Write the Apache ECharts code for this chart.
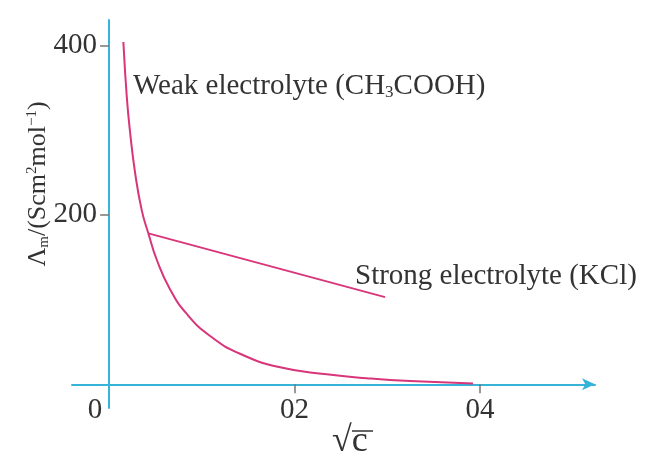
<!DOCTYPE html>
<html>
<head>
<meta charset="utf-8">
<script src="https://cdn.jsdelivr.net/npm/echarts@6/dist/echarts.min.js"></script>
<style>
  html, body { margin: 0; padding: 0; background: #fff; }
  #chart { width: 645px; height: 462px; }
</style>
</head>
<body>
<div id="chart"></div>
<script>
// Molar conductivity vs square root of concentration
const weakX = [0.0154, 0.0191, 0.0226, 0.028, 0.0353, 0.0424, 0.0514, 0.0658, 0.0838, 0.1089, 0.1412, 0.1844, 0.2347, 0.2778, 0.3245, 0.3925];
const weakY = [404, 339, 298, 250, 205, 178, 147, 112, 83, 57, 36, 20, 11.8, 7.2, 3.8, 1];
const strongX = [0.0424, 0.2976];
const strongY = [178, 103];
const xTicks = [0, 0.2, 0.4];
const xTickLabels = ['0', '02', '04'];
const yTicks = [200, 400];
const yTickLabels = ['200', '400'];

const AXIS = '#36b4d8';
const CURVE = '#d8357a';
const TEXT = '#333333';
const SERIF = '"Liberation Serif", "DejaVu Serif", serif';

const pairs = (xs, ys) => xs.map((x, i) => [x, ys[i]]);

const chart = echarts.init(document.getElementById('chart'));
chart.setOption({
  animation: false,
  backgroundColor: '#ffffff',
  grid: { left: 72, right: 50, top: 20, bottom: 54 },
  xAxis: {
    type: 'value',
    min: -0.04,
    max: 0.524,
    splitLine: { show: false },
    axisLine: {
      onZero: true,
      lineStyle: { color: AXIS, width: 2 },
      symbol: ['none', 'arrow'],
      symbolSize: [9, 13]
    },
    axisTick: {
      show: true,
      customValues: [0.2, 0.4],
      length: 9,
      inside: false,
      lineStyle: { color: '#777', width: 1.5 }
    },
    axisLabel: {
      customValues: xTicks,
      margin: -12,
      color: TEXT,
      fontFamily: SERIF,
      fontSize: 29,
      formatter: v => {
        const i = xTicks.findIndex(t => Math.abs(t - v) < 1e-9);
        const s = i >= 0 ? xTickLabels[i] : '';
        return v === 0 ? '{z|' + s + '}' : s;
      },
      rich: {
        z: { fontFamily: SERIF, fontSize: 29, color: TEXT, padding: [0, 28, 14, 0] }
      }
    }
  },
  yAxis: {
    type: 'value',
    min: -28,
    max: 430,
    splitLine: { show: false },
    axisLine: {
      onZero: true,
      lineStyle: { color: AXIS, width: 2 }
    },
    axisTick: {
      show: true,
      customValues: yTicks,
      length: 9,
      lineStyle: { color: '#777', width: 1.5 }
    },
    axisLabel: {
      customValues: yTicks,
      margin: -25,
      color: TEXT,
      fontFamily: SERIF,
      fontSize: 29,
      formatter: v => {
        const i = yTicks.indexOf(v);
        return i >= 0 ? yTickLabels[i] : '';
      }
    }
  },
  series: [
    {
      name: 'Weak electrolyte (CH3COOH)',
      type: 'line',
      data: pairs(weakX, weakY),
      smooth: 0.5,
      showSymbol: false,
      lineStyle: { color: CURVE, width: 2 }
    },
    {
      name: 'Strong electrolyte (KCl)',
      type: 'line',
      data: pairs(strongX, strongY),
      showSymbol: false,
      lineStyle: { color: CURVE, width: 1.8 }
    }
  ],
  graphic: [
    {
      type: 'text',
      left: 133,
      top: 72,
      style: {
        text: 'Weak electrolyte (CH{sub|3}COOH)',
        font: '29px ' + SERIF,
        fill: TEXT,
        rich: {
          sub: { fontFamily: SERIF, fontSize: 17, fill: TEXT, padding: [13, 0, 0, 0] }
        }
      }
    },
    {
      type: 'text',
      left: 355,
      top: 262,
      style: {
        text: 'Strong electrolyte (KCl)',
        font: '29px ' + SERIF,
        fill: TEXT
      }
    },
    {
      type: 'text',
      x: 38,
      y: 184,
      rotation: Math.PI / 2,
      style: {
        text: 'Λ{sub|m}/(Scm{sup|2}mol{sup|−1})',
        font: '26px ' + SERIF,
        fill: TEXT,
        align: 'center',
        verticalAlign: 'middle',
        rich: {
          sub: { fontFamily: SERIF, fontSize: 15, fill: TEXT, padding: [12, 0, 0, 0] },
          sup: { fontFamily: SERIF, fontSize: 15, fill: TEXT, padding: [0, 0, 12, 0] }
        }
      }
    },
    {
      type: 'text',
      left: 332,
      top: 424,
      style: {
        text: '{r|√}{c|c}',
        fill: TEXT,
        rich: {
          r: { fontFamily: SERIF, fontSize: 36, fill: TEXT },
          c: { fontFamily: SERIF, fontSize: 36, fill: TEXT }
        }
      }
    },
    {
      type: 'line',
      shape: { x1: 352, y1: 431, x2: 373, y2: 431 },
      style: { stroke: TEXT, lineWidth: 1.5 }
    }
  ]
});
</script>
</body>
</html>
